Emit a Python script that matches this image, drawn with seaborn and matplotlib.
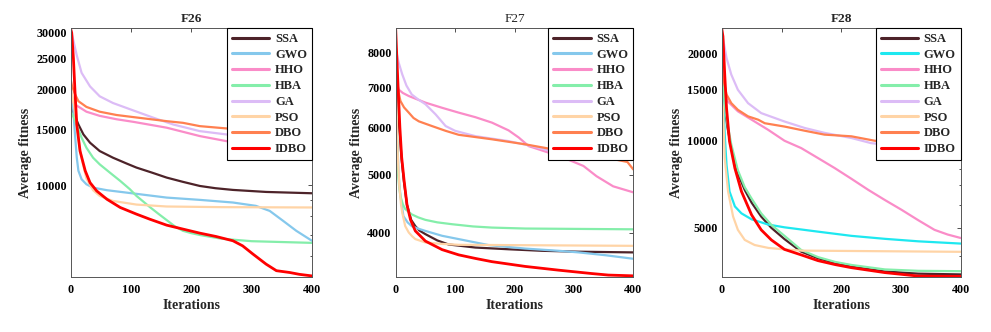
import matplotlib
matplotlib.use("Agg")
import matplotlib.pyplot as plt
import pandas as pd
import seaborn as sns
from matplotlib.ticker import LogLocator, NullFormatter

# Set seaborn plot style, then the serif font list
sns.set_style("white")
plt.rcParams["font.family"] = ["Liberation Serif", "DejaVu Serif"]
plt.rcParams["font.weight"] = "bold"

ALGORITHMS = ["SSA", "GWO", "HHO", "HBA", "GA", "PSO", "DBO", "IDBO"]
ITER_TICKS = [0, 100, 200, 300, 400]

# (iteration, average fitness)
F26_SSA = [(0, 17500), (5, 16800), (12.7, 15500), (21, 14430), (32, 13590), (48, 12800), (70, 12200),
           (93, 11690), (109, 11360), (135, 10950), (159, 10570), (186, 10250), (214, 9950), (240, 9790),
           (269, 9670), (324, 9530), (400, 9440)]
F26_GWO = [(0, 20000), (3, 18500), (7, 14430), (10, 12200), (12.7, 11100), (18, 10440), (26, 10070),
           (37, 9830), (60, 9650), (109, 9400), (159, 9150), (214, 9000), (269, 8830), (307, 8620),
           (330, 8310), (352, 7740), (374, 7200), (400, 6700)]
F26_HHO = [(0, 19000), (4, 18200), (7, 17910), (26, 17000), (48, 16500), (76, 16100), (104, 15800),
           (159, 15150), (214, 14260), (258, 13750), (330, 13200), (400, 12800)]
F26_HBA = [(0, 17000), (5, 16300), (10, 15400), (18, 14090), (26, 13110), (37, 12200), (48, 11630),
           (65, 10950), (82, 10320), (98, 9720), (109, 9260), (120, 8900), (131, 8550), (145, 8150),
           (159, 7780), (172, 7450), (186, 7200), (200, 7080), (215, 6980), (250, 6800), (300, 6680),
           (400, 6600)]
F26_GA = [(0, 30800), (3.3, 29000), (10, 25500), (18, 22500), (32, 20400), (48, 19000), (70, 18100),
          (104, 17150), (137, 16280), (170, 15500), (214, 14780), (258, 14430), (330, 14000), (400, 13600)]
F26_PSO = [(0, 20000), (5, 18000), (10, 15500), (15, 13000), (20, 11700), (26, 10500), (37, 9650),
           (48, 9260), (70, 8930), (109, 8700), (159, 8580), (250, 8540), (400, 8520)]
F26_DBO = [(0, 21400), (2, 20500), (7, 19300), (12.7, 18340), (26, 17600), (48, 17000), (76, 16600),
           (104, 16350), (159, 15880), (186, 15690), (214, 15320), (258, 15070), (330, 14800), (400, 14500)]
F26_IDBO = [(0, 30800), (1.6, 30000), (4.4, 25000), (7, 19700), (10, 15500), (15.4, 12800), (24, 11100),
            (32, 10190), (43, 9600), (60, 9040), (82, 8520), (109, 8120), (131, 7830), (159, 7500),
            (186, 7290), (214, 7080), (241, 6910), (269, 6700), (285, 6460), (302, 6090), (324, 5660),
            (341, 5400), (363, 5330), (379, 5260), (400, 5200)]

F27_SSA = [(0, 8200), (3, 7000), (6, 6000), (10, 5300), (14, 4850), (19, 4450), (26, 4200), (33, 4100),
           (40, 4030), (50, 3975), (70, 3880), (89, 3820), (134, 3775), (190, 3750), (246, 3728),
           (308, 3715), (400, 3705)]
F27_GWO = [(0, 7000), (2, 5900), (5, 5000), (8, 4600), (13, 4260), (20, 4160), (27, 4100), (38, 4060),
           (50, 4025), (78, 3950), (106, 3900), (157, 3810), (218, 3760), (274, 3728), (308, 3705),
           (353, 3665), (400, 3615)]
F27_HHO = [(0, 7500), (2, 7100), (5, 6940), (12, 6850), (22, 6770), (50, 6600), (78, 6470), (106, 6350),
           (134, 6240), (162, 6110), (190, 5930), (207, 5770), (224, 5580), (241, 5510), (280, 5350),
           (316, 5170), (338, 4970), (366, 4780), (400, 4670)]
F27_HBA = [(0, 7000), (2, 5800), (4, 5000), (6, 4750), (8, 4600), (12, 4460), (16, 4380), (27, 4290),
           (38, 4240), (50, 4200), (70, 4160), (95, 4130), (130, 4095), (162, 4077), (218, 4062),
           (400, 4050)]
F27_GA = [(0, 8000), (2, 7950), (5, 7700), (11, 7360), (18, 7050), (27, 6810), (38, 6680), (50, 6560),
          (67, 6310), (84, 6030), (100, 5920), (134, 5800), (190, 5690), (230, 5580), (257, 5490),
          (330, 5400), (400, 5300)]
F27_PSO = [(0, 7500), (3, 5500), (6, 4800), (9, 4450), (11, 4320), (16, 4100), (22, 4000), (28, 3940),
           (33, 3900), (50, 3850), (75, 3830), (106, 3815), (400, 3800)]
F27_DBO = [(0, 7600), (3, 7000), (8, 6640), (14, 6480), (22, 6350), (30, 6220), (39, 6140), (61, 6030),
           (84, 5920), (106, 5830), (162, 5730), (218, 5620), (257, 5530), (300, 5440), (350, 5350),
           (390, 5250), (400, 5100)]
F27_IDBO = [(0, 8750), (2, 7800), (4, 7000), (7, 6000), (10, 5350), (14, 4900), (19, 4450), (25, 4200),
            (33, 4025), (50, 3870), (78, 3745), (106, 3670), (134, 3620), (162, 3575), (218, 3510),
            (274, 3460), (330, 3415), (358, 3395), (400, 3385)]

F28_SSA = [(0, 19000), (3, 14500), (6, 12500), (10, 11000), (16, 9430), (27, 7700), (38.5, 6750),
           (50, 6100), (66, 5460), (83, 4990), (105, 4560), (133, 4125), (161, 3915), (190, 3770),
           (217, 3660), (273, 3520), (329, 3460), (400, 3440)]
F28_GWO = [(0, 16000), (2, 14800), (5, 10500), (8, 8250), (13, 6670), (22, 5920), (33, 5600), (50, 5340),
           (78, 5120), (105, 5010), (161, 4840), (217, 4680), (273, 4570), (329, 4480), (400, 4400)]
F28_HHO = [(0, 15500), (2, 14800), (10, 13700), (27, 12650), (50, 11830), (78, 10900), (105, 10000),
           (133, 9430), (161, 8710), (189, 8040), (217, 7380), (245, 6760), (273, 6230), (301, 5760),
           (329, 5300), (356, 4910), (378, 4730), (400, 4600)]
F28_HBA = [(0, 20000), (3, 15000), (6, 12800), (10, 11300), (16, 9700), (27, 7900), (38.5, 6900),
           (50, 6300), (66, 5600), (83, 5110), (105, 4680), (133, 4180), (161, 3950), (190, 3800),
           (217, 3710), (273, 3580), (329, 3540), (400, 3530)]
F28_GA = [(0, 23500), (2, 22700), (8, 19370), (16, 16950), (27, 15020), (44, 13500), (66, 12470),
          (105, 11660), (139, 11070), (172, 10650), (217, 10220), (250, 9810), (330, 9400), (400, 9000)]
F28_PSO = [(0, 14000), (2, 12980), (5, 8700), (10.6, 6670), (19, 5460), (27, 4910), (38.5, 4530),
           (55, 4350), (78, 4250), (105, 4200), (133, 4160), (400, 4120)]
F28_DBO = [(0, 17400), (8, 14470), (16, 13500), (27, 12800), (44, 12150), (61, 11830), (72, 11500),
           (105, 11200), (139, 10830), (172, 10500), (217, 10360), (256, 10000), (330, 9700), (400, 9500)]
F28_IDBO = [(0, 24500), (2, 23000), (5, 16950), (8, 12980), (13, 9950), (22, 8030), (33, 6670),
            (50, 5530), (66, 4910), (83, 4530), (105, 4200), (133, 4020), (161, 3840), (190, 3720),
            (217, 3630), (273, 3490), (329, 3395), (400, 3385)]

F26_YTICKS = [10000, 15000, 20000, 25000, 30000]
F27_YTICKS = [4000, 5000, 6000, 7000, 8000]
F28_YTICKS = [5000, 10000, 15000, 20000]

COLORS = {
    "SSA": "#4d2329",
    "GWO": "#85c8ec",
    "HHO": "#fa8cc8",
    "HBA": "#84eeaa",
    "GA": "#dcbcf6",
    "PSO": "#ffd4a6",
    "DBO": "#ff8050",
    "IDBO": "#ff0000",
}


def _to_frame(series):
    # Long-form data frame: one row per (algorithm, iteration)
    rows = []
    for name, points in zip(ALGORITHMS, series):
        for it, val in points:
            rows.append({"algorithm": name, "iteration": it, "fitness": val})
    return pd.DataFrame(rows)


def _plot_panel(ax, title, series, yticks, ylim, title_bold, gwo_color):
    df = _to_frame(series)
    palette = dict(COLORS, GWO=gwo_color)
    for name in ALGORITHMS:
        sns.lineplot(
            data=df[df["algorithm"] == name], x="iteration", y="fitness",
            color=palette[name], linewidth=2.0 if name == "IDBO" else 1.6,
            estimator=None, sort=True, ax=ax, label=name,
        )

    ax.set_yscale("log")
    ax.set_xlim(0, 400)
    ax.set_ylim(*ylim)
    ax.set_xticks(ITER_TICKS, labels=[str(t) for t in ITER_TICKS])
    ax.set_yticks(yticks, labels=[str(t) for t in yticks])
    ax.yaxis.set_minor_locator(LogLocator(base=10, subs=range(1, 10)))
    ax.yaxis.set_minor_formatter(NullFormatter())

    ax.tick_params(which="both", direction="in", top=True, right=True,
                   width=0.6, colors="#333333", labelcolor="black", labelsize=8.7)
    ax.tick_params(which="major", length=3)
    ax.tick_params(which="minor", length=1.6)
    ax.tick_params(axis="x", pad=5)
    ax.tick_params(axis="y", pad=3)
    for spine in ax.spines.values():
        spine.set_color("#555555")
        spine.set_linewidth(0.7)

    ax.set_title(title, fontsize=9.5, fontweight="bold" if title_bold else "normal", pad=4)
    ax.set_xlabel("Iterations", fontsize=10, fontweight="bold", labelpad=2)
    ax.set_ylabel("Average fitness", fontsize=10, fontweight="bold", labelpad=3)

    leg = ax.legend(
        loc="upper right", borderaxespad=0, frameon=True, fancybox=False,
        edgecolor="black", handlelength=3.0, handletextpad=0.45,
        labelspacing=0.3, borderpad=0.4,
        prop={"family": ["Liberation Serif"], "weight": "bold", "size": 9},
    )
    leg.get_frame().set_linewidth(0.8)
    leg.get_frame().set_alpha(1)
    for line in leg.get_lines():
        line.set_linewidth(2.2)


def main():
    fig = plt.figure(figsize=(9.91, 3.32), dpi=100)
    ax1 = fig.add_axes([0.0714, 0.1657, 0.2434, 0.75])
    ax2 = fig.add_axes([0.3993, 0.1657, 0.2398, 0.75])
    ax3 = fig.add_axes([0.7283, 0.1657, 0.2412, 0.75])

    _plot_panel(ax1, "F26",
                [F26_SSA, F26_GWO, F26_HHO, F26_HBA, F26_GA, F26_PSO, F26_DBO, F26_IDBO],
                F26_YTICKS, (5160, 31100), True, COLORS["GWO"])
    _plot_panel(ax2, "F27",
                [F27_SSA, F27_GWO, F27_HHO, F27_HBA, F27_GA, F27_PSO, F27_DBO, F27_IDBO],
                F27_YTICKS, (3370, 8800), False, COLORS["GWO"])
    _plot_panel(ax3, "F28",
                [F28_SSA, F28_GWO, F28_HHO, F28_HBA, F28_GA, F28_PSO, F28_DBO, F28_IDBO],
                F28_YTICKS, (3370, 24600), True, "#1ee8f0")

    fig.savefig("out.png", dpi=100)


if __name__ == "__main__":
    main()
